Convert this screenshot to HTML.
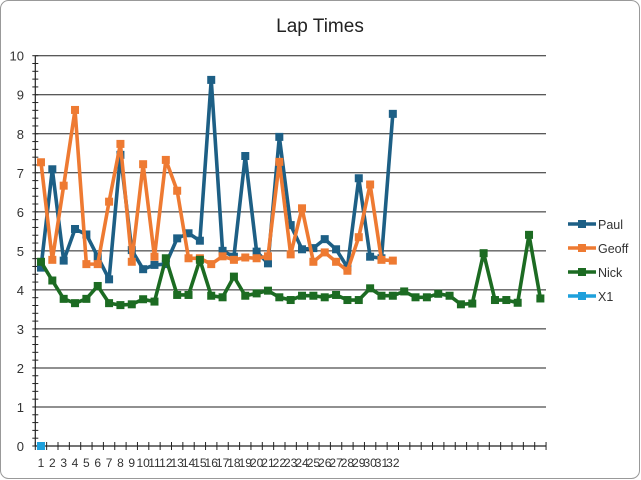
<!DOCTYPE html>
<html><head><meta charset="utf-8"><style>
body{margin:0;background:#fff}
svg{display:block;font-family:"Liberation Sans",sans-serif}
</style></head><body>
<svg id="c" width="641" height="480" xmlns="http://www.w3.org/2000/svg">
<rect x="0.5" y="0.5" width="639" height="478" rx="8" fill="#fff" stroke="#999"/>
<text x="320" y="32" font-size="19" text-anchor="middle" fill="#222">Lap Times</text>
</svg>
<script>
const s=document.getElementById('c'),NS='http://www.w3.org/2000/svg';
function el(t,a,txt){const e=document.createElementNS(NS,t);for(const k in a)e.setAttribute(k,a[k]);if(txt!=null)e.textContent=txt;s.appendChild(e);return e;}
const x0=35.3,dx=11.35,y0=446,u=39.03,xR=546;
const X=i=>x0+(i-0.5)*dx, Y=v=>y0-v*u;
for(let v=1;v<=10;v++)el('line',{x1:x0,x2:xR,y1:Y(v),y2:Y(v),stroke:'#222','stroke-width':1});
for(let v=0;v<=10;v++)el('text',{x:24,y:Y(v)+5,'font-size':13,'text-anchor':'end',fill:'#333'},v);
el('line',{x1:x0,x2:x0,y1:Y(10),y2:y0,stroke:'#222','stroke-width':1.2});
for(let k=0;k<=50;k++){const yy=Y(k*0.2);el('line',{x1:x0-3,x2:x0+3,y1:yy,y2:yy,stroke:'#222','stroke-width':1});}
el('line',{x1:x0,x2:xR,y1:y0,y2:y0,stroke:'#222','stroke-width':1.2});
for(let i=0;i<=45;i++){const xx=x0+i*dx;el('line',{x1:xx,x2:xx,y1:y0-4,y2:y0+4,stroke:'#222','stroke-width':1});}
for(let i=1;i<=32;i++)el('text',{x:X(i),y:467,'font-size':12,'text-anchor':'middle',fill:'#333'},i);
const paul=[4.57,7.09,4.75,5.56,5.42,4.85,4.27,7.46,5.02,4.53,4.64,4.66,5.32,5.45,5.26,9.38,5.0,4.85,7.43,4.98,4.68,7.92,5.66,5.04,5.07,5.3,5.04,4.58,6.86,4.85,4.81,8.51];
const geoff=[7.27,4.77,6.67,8.61,4.66,4.66,6.26,7.74,4.72,7.22,4.85,7.33,6.54,4.81,4.81,4.66,4.86,4.77,4.83,4.81,4.86,7.28,4.91,6.09,4.72,4.96,4.72,4.49,5.35,6.7,4.77,4.75];
const nick=[4.72,4.24,3.77,3.66,3.77,4.1,3.66,3.61,3.63,3.76,3.7,4.81,3.87,3.87,4.77,3.85,3.81,4.34,3.85,3.91,3.98,3.81,3.74,3.85,3.85,3.81,3.87,3.74,3.74,4.04,3.85,3.85,3.96,3.81,3.81,3.9,3.85,3.63,3.65,4.94,3.74,3.74,3.67,5.41,3.78];
function ser(d,c){el('polyline',{points:d.map((v,i)=>X(i+1)+','+Y(v)).join(' '),fill:'none',stroke:c,'stroke-width':3.6,'stroke-linejoin':'round'});
d.forEach((v,i)=>el('rect',{x:X(i+1)-4,y:Y(v)-4,width:8,height:8,fill:c}));}
ser(paul,'#1d5f85');ser(geoff,'#ee7a32');ser(nick,'#1c6b22');
el('rect',{x:X(1)-4,y:y0-4,width:8,height:8,fill:'#1ea0dc'});
[['Paul','#1d5f85',224],['Geoff','#ee7a32',248],['Nick','#1c6b22',272],['X1','#1ea0dc',296]].forEach(([n,c,y])=>{
el('line',{x1:568,x2:596,y1:y,y2:y,stroke:c,'stroke-width':3.6});
el('rect',{x:578,y:y-4,width:8,height:8,fill:c});
el('text',{x:598,y:y+5,'font-size':12.5,fill:'#333'},n);});
</script>
</body></html>
